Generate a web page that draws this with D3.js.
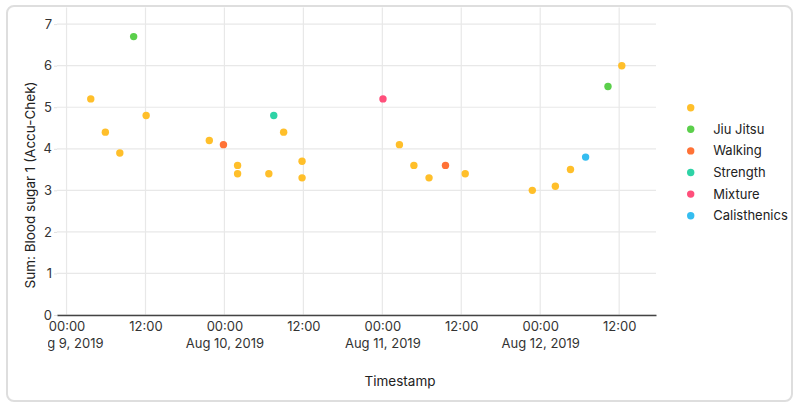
<!DOCTYPE html>
<html><head><meta charset="utf-8">
<script src="https://cdn.jsdelivr.net/npm/d3@7"></script>
<style>
html,body{margin:0;padding:0;background:#fff;}
svg{display:block;font-family:Inter, "Open Sans", sans-serif;}
</style></head>
<body><svg id="c" width="800" height="406"></svg>
<script>
const categories = ["", "Jiu Jitsu", "Walking", "Strength", "Mixture", "Calisthenics"];
const colors = ["#FFBF2A", "#5BCF4B", "#FF7236", "#2ED3A6", "#FF4F7B", "#35BDF0"];
const timestamps = [
  "2019-08-09T03:41","2019-08-09T05:54","2019-08-09T08:06","2019-08-09T10:12","2019-08-09T12:06",
  "2019-08-09T21:42","2019-08-09T23:51","2019-08-10T02:00","2019-08-10T02:00","2019-08-10T06:45",
  "2019-08-10T07:30","2019-08-10T09:00","2019-08-10T11:48","2019-08-10T11:48","2019-08-11T00:06",
  "2019-08-11T02:36","2019-08-11T04:48","2019-08-11T07:06","2019-08-11T09:36","2019-08-11T12:36",
  "2019-08-11T22:48","2019-08-12T02:18","2019-08-12T04:36","2019-08-12T06:54","2019-08-12T10:18",
  "2019-08-12T12:24"];
const bloodSugar = [5.2,4.4,3.9,6.7,4.8, 4.2,4.1,3.6,3.4,3.4, 4.8,4.4,3.7,3.3,5.2, 4.1,3.6,3.3,3.6,3.4, 3.0,3.1,3.5,3.8,5.5, 6.0];
const activity = ["","","","Jiu Jitsu","", "","Walking","","","", "Strength","","","","Mixture", "","","","Walking","", "","","","Calisthenics","Jiu Jitsu", ""];
const yTicks = [0,1,2,3,4,5,6,7];
const xDomain = ["2019-08-08T22:33","2019-08-12T17:36"];

const parse = d3.isoParse;
const data = timestamps.map((t,i)=>({t:parse(t), v:bloodSugar[i], a:activity[i]}));

const svg = d3.select("#c");
const W = 800, H = 406;
const m = {l:57, r:144, t:7.5, b:91};
const x = d3.scaleTime().domain(xDomain.map(parse)).range([m.l, W - m.r]);
const y = d3.scaleLinear().domain([0, 7.4]).range([H - m.b, m.t]);
const color = d3.scaleOrdinal().domain(categories).range(colors);

// card
svg.append("rect").attr("x",7).attr("y",6).attr("width",785).attr("height",395)
  .attr("rx",7).attr("fill","#fff").attr("stroke","#dedede").attr("stroke-width",2);

// grid
const xTicks = x.ticks(d3.timeHour.every(12));
svg.append("g").selectAll("line").data(yTicks).join("line")
  .attr("x1",m.l).attr("x2",W-m.r).attr("y1",d=>y(d)).attr("y2",d=>y(d))
  .attr("stroke","#e8e8e8").attr("stroke-width",1.2);
svg.append("g").selectAll("line").data(xTicks).join("line")
  .attr("x1",d=>x(d)).attr("x2",d=>x(d)).attr("y1",m.t).attr("y2",H-m.b)
  .attr("stroke","#e8e8e8").attr("stroke-width",1.2);

// y axis labels
const ya = svg.append("g").attr("transform",`translate(${m.l},0)`)
  .call(d3.axisLeft(y).tickValues(yTicks).tickSize(3).tickPadding(2).tickFormat(d3.format("d")));
ya.select(".domain").remove();
ya.selectAll(".tick line").attr("stroke","#e0e0e0");
ya.selectAll("text").attr("font-size",13).attr("fill","#333").attr("font-family","Inter, sans-serif");

// x axis
svg.append("defs").append("clipPath").attr("id","xclip").append("rect")
  .attr("x",48).attr("y",-3).attr("width",W-48).attr("height",60);
const xa = svg.append("g").attr("transform",`translate(0,${H-m.b})`)
  .attr("clip-path","url(#xclip)")
  .call(d3.axisBottom(x).tickValues(xTicks).tickSize(0).tickPadding(6).tickFormat(""));
xa.select(".domain").attr("stroke","#444").attr("stroke-width",1.5);
const fmtT = d3.timeFormat("%H:%M"), fmtD = d3.timeFormat("%b %-d, %Y");
xa.selectAll(".tick").each(function(d){
  const g = d3.select(this);
  g.select("text").remove();
  const t = g.append("text").attr("text-anchor","middle").attr("fill","#333")
    .attr("font-size",13).attr("font-family","Inter, sans-serif");
  t.append("tspan").attr("x",0).attr("y",15.5).text(fmtT(d));
  if (d.getHours()===0) t.append("tspan").attr("x",0).attr("y",32.5).text(fmtD(d));
});

// points
svg.append("g").selectAll("circle").data(data).join("circle")
  .attr("cx",d=>x(d.t)).attr("cy",d=>y(d.v)).attr("r",3.7)
  .attr("fill",d=>color(d.a));

// titles
svg.append("text").attr("x",400).attr("y",386).attr("text-anchor","middle")
  .attr("font-size",13.5).attr("fill","#222").text("Timestamp");
svg.append("text").attr("transform","translate(35,185) rotate(-90)").attr("text-anchor","middle")
  .attr("font-size",13.5).attr("fill","#222").text("Sum: Blood sugar 1 (Accu-Chek)");

// legend
const lg = svg.append("g").selectAll("g").data(categories).join("g")
  .attr("transform",(d,i)=>`translate(690.7,${107.7 + i*21.6})`);
lg.append("circle").attr("r",3.7).attr("fill",d=>color(d));
lg.append("text").attr("x",22.5).attr("dy","0.35em").attr("font-size",13).attr("fill","#222").text(d=>d);
</script></body></html>
